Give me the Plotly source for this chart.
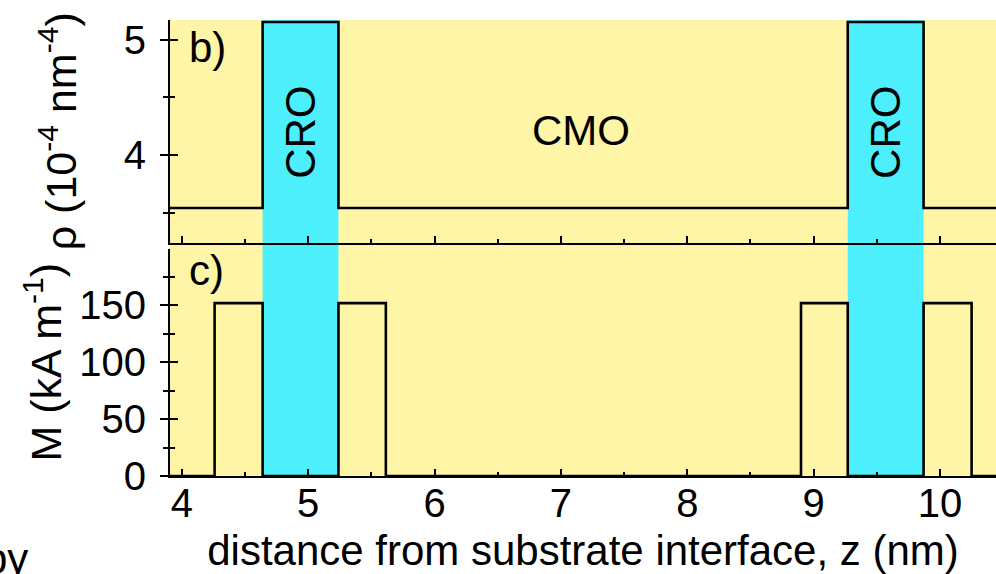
import plotly.graph_objects as go

# ---- data ----
z_rho = [3.9, 4.64, 5.24, 9.27, 9.87, 10.5]
rho = [3.54, 5.155, 3.54, 5.155, 3.54, 3.54]

z_M = [3.9, 4.26, 4.64, 5.24, 5.615, 8.90, 9.27, 9.87, 10.25, 10.5]
M = [0, 152, 0, 152, 0, 152, 0, 152, 0, 0]

cro_start = [4.64, 9.27]
cro_end = [5.24, 9.87]

x_ticks = [4, 5, 6, 7, 8, 9, 10]
rho_ticks = [4, 5]
rho_minor = [3.5, 4.5]
M_ticks = [0, 50, 100, 150]
M_minor = [25, 75, 125, 175]

YELLOW = "#FFF5A6"
CYAN = "#4CEFFB"
FONT = "Liberation Sans, Arial, Helvetica, sans-serif"

XR = [3.907, 10.443]
YR1 = [3.241, 5.172]
YR2 = [0, 200]

fig = go.Figure()
fig.add_trace(go.Scatter(x=z_rho, y=rho, mode="lines", line=dict(shape="hv", color="black", width=2.6),
                         xaxis="x", yaxis="y", showlegend=False, hoverinfo="skip"))
fig.add_trace(go.Scatter(x=z_M, y=M, mode="lines", line=dict(shape="hv", color="black", width=2.6),
                         xaxis="x2", yaxis="y2", showlegend=False, hoverinfo="skip"))
# dummy traces for overlay tick axes
fig.add_trace(go.Scatter(x=[None], y=[None], xaxis="x", yaxis="y3", showlegend=False, hoverinfo="skip"))
fig.add_trace(go.Scatter(x=[None], y=[None], xaxis="x2", yaxis="y4", showlegend=False, hoverinfo="skip"))

shapes = [dict(type="rect", xref="paper", yref="paper", x0=0, x1=1, y0=0, y1=1,
               fillcolor=YELLOW, line=dict(width=0), layer="below")]
for a, b in zip(cro_start, cro_end):
    shapes.append(dict(type="rect", xref="x", yref="paper", x0=a, x1=b, y0=0, y1=1,
                       fillcolor=CYAN, line=dict(width=0), layer="below"))

xcommon = dict(range=XR, showgrid=False, zeroline=False, showline=True, linecolor="black", linewidth=2,
               ticks="inside", ticklen=7, tickwidth=2, tickcolor="black", tickvals=x_ticks,
               minor=dict(dtick=0.5, tick0=4, ticks="inside", ticklen=4, tickwidth=2, tickcolor="black"))

fig.update_layout(
    width=996, height=574,
    margin=dict(l=170, r=0, t=20, b=95),
    paper_bgcolor="white", plot_bgcolor="rgba(0,0,0,0)",
    font=dict(family=FONT, color="black", size=40),
    shapes=shapes,
    xaxis=dict(**xcommon, anchor="y", domain=[0, 1], showticklabels=False, matches="x2"),
    xaxis2=dict(**xcommon, anchor="y2", domain=[0, 1], showticklabels=True,
                tickfont=dict(size=40), ticklabelstandoff=-9,
                title=dict(text="distance from substrate interface, z (nm)", font=dict(size=42), standoff=20)),
    yaxis=dict(domain=[0.512, 1], anchor="x", range=YR1, showgrid=False, zeroline=False,
               showline=True, linecolor="black", linewidth=2,
               tickvals=rho_ticks, ticks="outside", ticklen=8, tickwidth=2, tickcolor="black",
               minor=dict(tickvals=rho_minor, ticks="outside", ticklen=5, tickwidth=2, tickcolor="black"),
               tickfont=dict(size=40), ticklabelstandoff=6,
               title=dict(text="ρ (10<sup>-4</sup> nm<sup>-4</sup>)", font=dict(size=43), standoff=34)),
    yaxis3=dict(overlaying="y", anchor="x", side="left", range=YR1, showgrid=False, zeroline=False,
                showline=False, showticklabels=False,
                tickvals=rho_ticks, ticks="inside", ticklen=8, tickwidth=2, tickcolor="black",
                minor=dict(tickvals=rho_minor, ticks="inside", ticklen=5, tickwidth=2, tickcolor="black")),
    yaxis2=dict(domain=[0, 0.4989], anchor="x2", range=YR2, showgrid=False, zeroline=False,
                showline=True, linecolor="black", linewidth=2,
                tickvals=M_ticks, ticks="outside", ticklen=8, tickwidth=2, tickcolor="black",
                minor=dict(tickvals=M_minor, ticks="outside", ticklen=5, tickwidth=2, tickcolor="black"),
                tickfont=dict(size=40), ticklabelstandoff=6,
                title=dict(text="M (kA m<sup>-1</sup>)", font=dict(size=43), standoff=4)),
    yaxis4=dict(overlaying="y2", anchor="x2", side="left", range=YR2, showgrid=False, zeroline=False,
                showline=False, showticklabels=False,
                tickvals=M_ticks, ticks="inside", ticklen=8, tickwidth=2, tickcolor="black",
                minor=dict(tickvals=M_minor, ticks="inside", ticklen=5, tickwidth=2, tickcolor="black")),
)

ann = [
    dict(text="b)", xref="paper", yref="paper", x=0.02, y=0.94, xanchor="left", yanchor="middle",
         showarrow=False, font=dict(size=42)),
    dict(text="c)", xref="paper", yref="paper", x=0.02, y=0.45, xanchor="left", yanchor="middle",
         showarrow=False, font=dict(size=42)),
    dict(text="CMO", xref="paper", yref="paper", x=(581 - 170) / 826, y=(479 - 131) / 459,
         xanchor="center", yanchor="middle", showarrow=False, font=dict(size=42)),
    dict(text="py", xref="paper", yref="paper", x=(30 - 170) / 826, y=(479 - 562) / 459,
         xanchor="right", yanchor="middle", showarrow=False, font=dict(size=42)),
]
for a, b in zip(cro_start, cro_end):
    ann.append(dict(text="CRO", xref="x", yref="paper", x=(a + b) / 2, y=(479 - 133) / 459,
                    xanchor="center", yanchor="middle", textangle=-90, showarrow=False, font=dict(size=42)))
fig.update_layout(annotations=ann)

fig.write_html("out.html")
